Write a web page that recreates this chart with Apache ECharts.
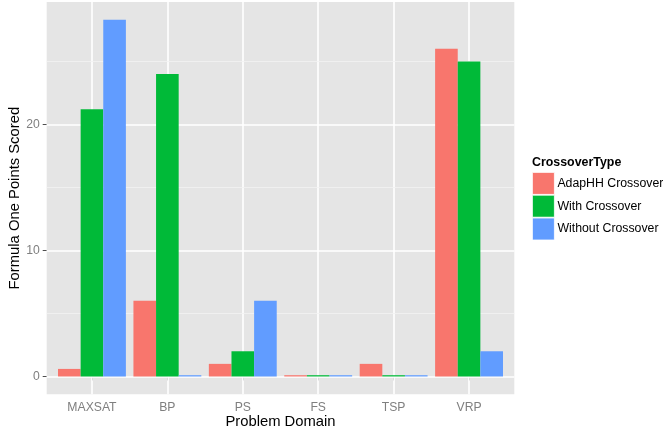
<!DOCTYPE html>
<html>
<head>
<meta charset="utf-8">
<script src="https://cdn.jsdelivr.net/npm/echarts@6/dist/echarts.min.js"></script>
<style>
  html, body { margin: 0; padding: 0; background: #fff; }
  #chart { width: 663px; height: 435px; }
</style>
</head>
<body>
<div id="chart"></div>
<script>
// ---- data ----
const categories = ['MAXSAT', 'BP', 'PS', 'FS', 'TSP', 'VRP'];
const seriesNames = ['AdapHH Crossover', 'With Crossover', 'Without Crossover'];
const adapHH = [0.6, 6.0, 1.0, 0.1, 1.0, 26.0];
const withCrossover = [21.2, 24.0, 2.0, 0.1, 0.1, 25.0];
const withoutCrossover = [28.3, 0.1, 6.0, 0.1, 0.1, 2.0];
const yMajorTicks = [0, 10, 20];
const yMinorTicks = [5, 15, 25];
const yRange = [-1.415, 29.715];
const legendTitle = 'CrossoverType';
const xTitle = 'Problem Domain';
const yTitle = 'Formula One Points Scored';

const colors = ['#F8766D', '#00BA38', '#619CFF'];
const FONT = "'Liberation Sans', Arial, Helvetica, sans-serif";

// panel geometry (ggplot-like discrete expansion of 0.6 band on each side)
const panelLeft = 46.7, panelTop = 2, panelW = 467.6, panelH = 392.3;
const band = panelW / (categories.length + 0.2);
const barGridLeft = panelLeft + 0.6 * band - 0.5 * band;
const barGridW = band * categories.length;

const chart = echarts.init(document.getElementById('chart'), null, { renderer: 'canvas' });

const barSeries = [adapHH, withCrossover, withoutCrossover].map((vals, i) => ({
  name: seriesNames[i],
  type: 'bar',
  xAxisIndex: 0,
  yAxisIndex: 0,
  data: vals,
  barGap: '0%',
  barCategoryGap: '10%',
  itemStyle: { color: colors[i] },
  z: 10,
  silent: true
}));

const option = {
  animation: false,
  backgroundColor: '#ffffff',
  textStyle: { fontFamily: FONT },
  grid: [
    { left: barGridLeft, top: panelTop, width: barGridW, height: panelH, containLabel: false },
    { left: panelLeft, top: panelTop, width: panelW, height: panelH, show: true,
      backgroundColor: '#E5E5E5', borderWidth: 0, z: 0 }
  ],
  xAxis: [
    { type: 'category', gridIndex: 0, data: categories,
      axisLine: { show: false },
      axisTick: { show: true, alignWithLabel: true, length: 4, lineStyle: { color: '#4d4d4d', width: 1 } },
      axisLabel: { color: '#7F7F7F', fontSize: 12.2, margin: 7, fontFamily: FONT },
      splitLine: { show: false } },
    { type: 'value', gridIndex: 1, min: 0, max: 1, show: false,
      splitLine: { show: false } }
  ],
  yAxis: [
    { type: 'value', gridIndex: 0, min: yRange[0], max: yRange[1], show: false, splitLine: { show: false } },
    { type: 'value', gridIndex: 1, min: yRange[0], max: yRange[1],
      axisLine: { show: false },
      axisTick: { show: true, length: 4, customValues: yMajorTicks, lineStyle: { color: '#4d4d4d', width: 1 } },
      axisLabel: { color: '#7F7F7F', fontSize: 12.2, margin: 7, customValues: yMajorTicks, fontFamily: FONT },
      splitLine: { show: false } }
  ],
  legend: {
    data: seriesNames,
    orient: 'vertical',
    left: 532, top: 172,
    padding: 0,
    itemGap: 0,
    itemWidth: 22, itemHeight: 22,
    icon: 'rect',
    itemStyle: { borderColor: '#ffffff', borderWidth: 0.8 },
    textStyle: { color: '#000', fontSize: 12.3, fontFamily: FONT, padding: [0, 0, 0, -2] },
    selectedMode: false
  },
  title: {
    text: legendTitle,
    left: 532, top: 157,
    padding: 0,
    textStyle: { fontSize: 12.4, fontWeight: 'bold', color: '#000', fontFamily: FONT }
  },
  graphic: [
    { type: 'text', x: panelLeft + panelW / 2, y: 421.7,
      style: { text: xTitle, fill: '#000', font: '14.8px ' + FONT, textAlign: 'center', textVerticalAlign: 'middle' } },
    { type: 'text', x: 15, y: panelTop + panelH / 2, rotation: Math.PI / 2,
      style: { text: yTitle, fill: '#000', font: '14.8px ' + FONT, textAlign: 'center', textVerticalAlign: 'middle' } }
  ],
  series: [
    { type: 'line', xAxisIndex: 0, yAxisIndex: 0, data: [], z: 1, silent: true,
      markLine: { silent: true, z: 1, symbol: ['none', 'none'], label: { show: false },
        lineStyle: { color: '#ffffff', width: 1.6, type: 'solid' },
        emphasis: { disabled: true },
        data: categories.map(c => ({ xAxis: c })) } },
    { type: 'line', xAxisIndex: 1, yAxisIndex: 1, data: [], z: 1, silent: true,
      markLine: { silent: true, z: 1, symbol: ['none', 'none'], label: { show: false },
        emphasis: { disabled: true },
        data: yMinorTicks.map(v => ({ yAxis: v, lineStyle: { color: '#F2F2F2', width: 0.8, type: 'solid' } }))
          .concat(yMajorTicks.map(v => ({ yAxis: v, lineStyle: { color: '#ffffff', width: 1.6, type: 'solid' } }))) } }
  ].concat(barSeries)
};

chart.setOption(option);
</script>
</body>
</html>
